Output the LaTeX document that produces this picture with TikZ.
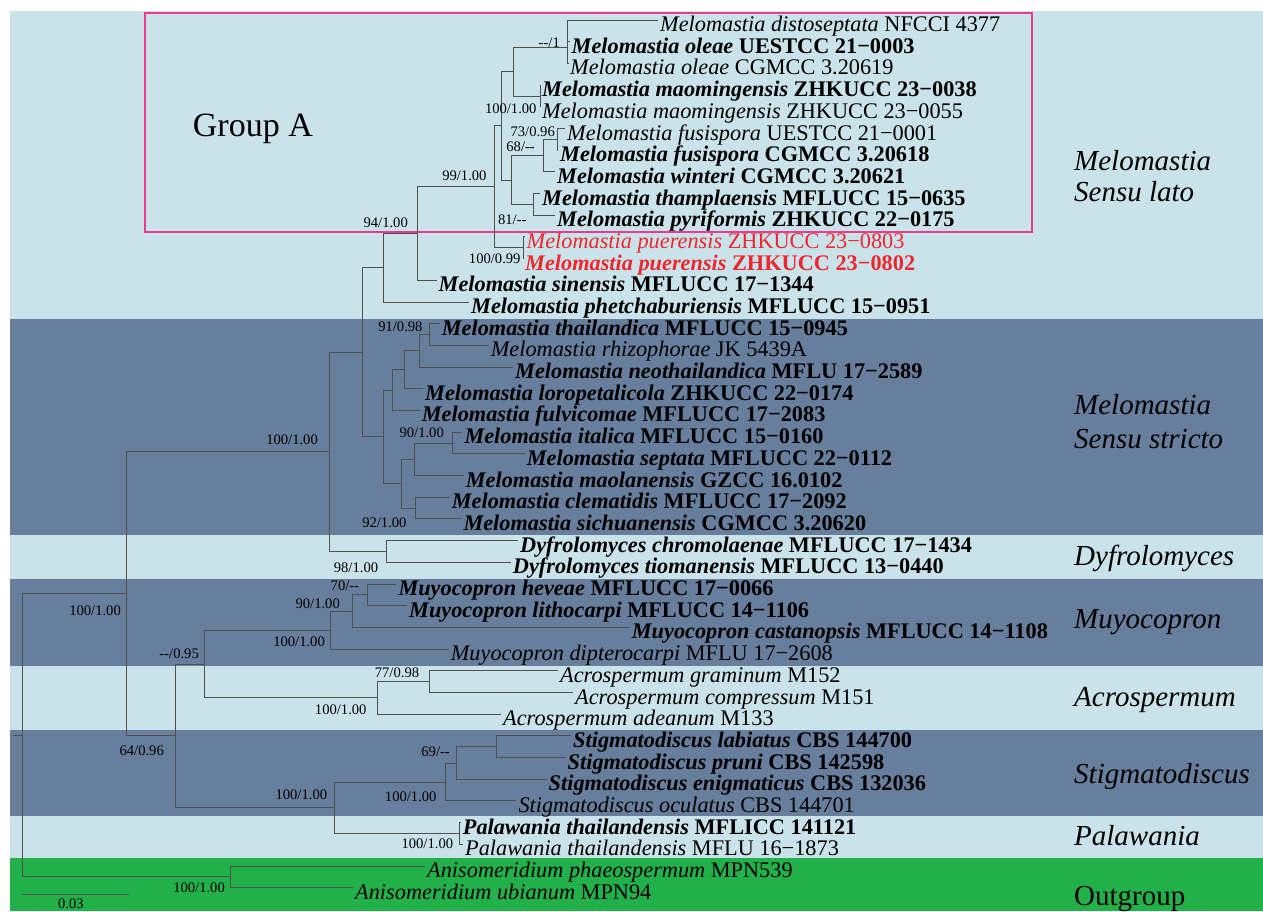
\documentclass[tikz,border=0pt]{standalone}
\usepackage{fontspec}
\setmainfont{Liberation Serif}
\definecolor{lightband}{RGB}{202,227,234}
\definecolor{darkband}{RGB}{103,126,156}
\definecolor{outband}{RGB}{34,176,75}
\definecolor{boxpink}{RGB}{236,58,140}
\definecolor{newred}{RGB}{240,38,45}
\definecolor{treeline}{RGB}{80,80,80}
\newcommand{\regtaxon}[2]{\textit{#1} #2}
\newcommand{\boldtaxon}[2]{\textbf{\textit{#1} #2}}
\begin{document}
\begin{tikzpicture}[x=1pt,y=-1pt]
            \tikzstyle{leaf}=[anchor=west,inner xsep=2pt,inner ysep=0pt,text height=23pt,text depth=0pt,font=\fontsize{22.3}{24}\selectfont]
            \tikzstyle{supp}=[anchor=base east,inner sep=0pt,font=\fontsize{14.6}{16}\selectfont]
            \tikzstyle{clade}=[anchor=base west,inner sep=0pt,font=\fontsize{29}{31}\selectfont\itshape]
            \tikzstyle{branch}=[treeline,line width=0.9pt]
            \useasboundingbox (0,0) rectangle (1263,911);
            \fill[lightband] (10,10.7) rectangle (1263,318.5);
            \fill[darkband] (10,318.5) rectangle (1263,535);
            \fill[lightband] (10,535) rectangle (1263,578.7);
            \fill[darkband] (10,578.7) rectangle (1263,665.7);
            \fill[lightband] (10,665.7) rectangle (1263,730);
            \fill[darkband] (10,730) rectangle (1263,816.3);
            \fill[lightband] (10,816.3) rectangle (1263,857.5);
            \fill[outband] (10,857.5) rectangle (1263,911);
            \draw[boxpink,line width=2pt] (145,13.3) rectangle (1032,231.7);
            \node[anchor=base west,inner sep=0pt,font=\fontsize{34}{36}\selectfont] (ga) at (192.7,136.7) {Group A};
            % taxa
            \node[leaf] (l1) at (658,20) {\regtaxon{Melomastia distoseptata}{NFCCI 4377}};
            \node[leaf] (l2) at (569.5,41.7) {\boldtaxon{Melomastia oleae}{UESTCC 21−0003}};
            \node[leaf] (l3) at (568,63.4) {\regtaxon{Melomastia oleae}{CGMCC 3.20619}};
            \node[leaf] (l4) at (540,85.1) {\boldtaxon{Melomastia maomingensis}{ZHKUCC 23−0038}};
            \node[leaf] (l5) at (540,106.8) {\regtaxon{Melomastia maomingensis}{ZHKUCC 23−0055}};
            \node[leaf] (l6) at (565,128.5) {\regtaxon{Melomastia fusispora}{UESTCC 21−0001}};
            \node[leaf] (l7) at (558,150.1) {\boldtaxon{Melomastia fusispora}{CGMCC 3.20618}};
            \node[leaf] (l8) at (555,171.8) {\boldtaxon{Melomastia winteri}{CGMCC 3.20621}};
            \node[leaf] (l9) at (540,193.5) {\boldtaxon{Melomastia thamplaensis}{MFLUCC 15−0635}};
            \node[leaf] (l10) at (555,215.2) {\boldtaxon{Melomastia pyriformis}{ZHKUCC 22−0175}};
            \node[leaf,text=newred] (l11) at (524.5,236.9) {\regtaxon{Melomastia puerensis}{ZHKUCC 23−0803}};
            \node[leaf,text=newred] (l12) at (523,258.6) {\boldtaxon{Melomastia puerensis}{ZHKUCC 23−0802}};
            \node[leaf] (l13) at (436.5,280.3) {\boldtaxon{Melomastia sinensis}{MFLUCC 17−1344}};
            \node[leaf] (l14) at (469,302) {\boldtaxon{Melomastia phetchaburiensis}{MFLUCC 15−0951}};
            \node[leaf] (l15) at (439.7,323.7) {\boldtaxon{Melomastia thailandica}{MFLUCC 15−0945}};
            \node[leaf] (l16) at (488.7,345.4) {\regtaxon{Melomastia rhizophorae}{JK 5439A}};
            \node[leaf] (l17) at (513,367) {\boldtaxon{Melomastia neothailandica}{MFLU 17−2589}};
            \node[leaf] (l18) at (423,388.7) {\boldtaxon{Melomastia loropetalicola}{ZHKUCC 22−0174}};
            \node[leaf] (l19) at (419.7,410.4) {\boldtaxon{Melomastia fulvicomae}{MFLUCC 17−2083}};
            \node[leaf] (l20) at (462.3,432.1) {\boldtaxon{Melomastia italica}{MFLUCC 15−0160}};
            \node[leaf] (l21) at (524.7,453.8) {\boldtaxon{Melomastia septata}{MFLUCC 22−0112}};
            \node[leaf] (l22) at (463.7,475.5) {\boldtaxon{Melomastia maolanensis}{GZCC 16.0102}};
            \node[leaf] (l23) at (449.7,497.2) {\boldtaxon{Melomastia clematidis}{MFLUCC 17−2092}};
            \node[leaf] (l24) at (461.3,518.9) {\boldtaxon{Melomastia sichuanensis}{CGMCC 3.20620}};
            \node[leaf] (l25) at (518,540.6) {\boldtaxon{Dyfrolomyces chromolaenae}{MFLUCC 17−1434}};
            \node[leaf] (l26) at (510.7,562.3) {\boldtaxon{Dyfrolomyces tiomanensis}{MFLUCC 13−0440}};
            \node[leaf] (l27) at (396.3,584) {\boldtaxon{Muyocopron heveae}{MFLUCC 17−0066}};
            \node[leaf] (l28) at (407,605.7) {\boldtaxon{Muyocopron lithocarpi}{MFLUCC 14−1106}};
            \node[leaf] (l29) at (629.7,627.4) {\boldtaxon{Muyocopron castanopsis}{MFLUCC 14−1108}};
            \node[leaf] (l30) at (448.7,649.1) {\regtaxon{Muyocopron dipterocarpi}{MFLU 17−2608}};
            \node[leaf] (l31) at (558,670.8) {\regtaxon{Acrospermum graminum}{M152}};
            \node[leaf] (l32) at (573,692.5) {\regtaxon{Acrospermum compressum}{M151}};
            \node[leaf] (l33) at (501,714.2) {\regtaxon{Acrospermum adeanum}{M133}};
            \node[leaf] (l34) at (571,735.9) {\boldtaxon{Stigmatodiscus labiatus}{CBS 144700}};
            \node[leaf] (l35) at (565.5,757.6) {\boldtaxon{Stigmatodiscus pruni}{CBS 142598}};
            \node[leaf] (l36) at (546.5,779.2) {\boldtaxon{Stigmatodiscus enigmaticus}{CBS 132036}};
            \node[leaf] (l37) at (516.3,800.9) {\regtaxon{Stigmatodiscus oculatus}{CBS 144701}};
            \node[leaf] (l38) at (460.7,822.6) {\boldtaxon{Palawania thailandensis}{MFLICC 141121}};
            \node[leaf] (l39) at (463,844.3) {\regtaxon{Palawania thailandensis}{MFLU 16−1873}};
            \node[leaf] (l40) at (425,866) {\regtaxon{Anisomeridium phaeospermum}{MPN539}};
            \node[leaf] (l41) at (353,887.7) {\regtaxon{Anisomeridium ubianum}{MPN94}};
            % inner nodes
            \coordinate (ga1) at (567.5,47);
            \coordinate (ga2) at (540,96);
            \coordinate (ga3) at (513,71.5);
            \coordinate (ga4) at (557,139.3);
            \coordinate (ga5) at (543,155.6);
            \coordinate (ga6) at (533,204.4);
            \coordinate (ga7) at (511,180);
            \coordinate (ga8) at (501,125.75);
            \coordinate (ga9) at (523,247.75);
            \coordinate (ga10) at (494,186.75);
            \coordinate (ga11) at (417,233.5);
            \coordinate (ga12) at (383,267.75);
            \coordinate (ss1) at (429.3,334.55);
            \coordinate (ss2) at (419,350.8);
            \coordinate (ss3) at (404,369.75);
            \coordinate (ss4) at (392,390.1);
            \coordinate (ss5) at (452,442.95);
            \coordinate (ss6) at (414.3,459.2);
            \coordinate (ss7) at (415.3,508.05);
            \coordinate (ss8) at (401,483.6);
            \coordinate (ss9) at (383,436.85);
            \coordinate (m1) at (362,352.3);
            \coordinate (dy1) at (386.7,551.45);
            \coordinate (m2) at (329.3,451.9);
            \coordinate (mu1) at (367.7,594.85);
            \coordinate (mu2) at (352.3,611.1);
            \coordinate (mu3) at (330.3,630.1);
            \coordinate (ac1) at (429.3,681.65);
            \coordinate (ac2) at (377.7,697.9);
            \coordinate (b1) at (204,664);
            \coordinate (st1) at (496.7,746.75);
            \coordinate (st2) at (456.7,763);
            \coordinate (st3) at (445.7,781.95);
            \coordinate (pa1) at (459,833.45);
            \coordinate (st4) at (334.3,807.7);
            \coordinate (b2) at (175.3,735.85);
            \coordinate (in1) at (126.7,593.9);
            \coordinate (og1) at (230.7,876.85);
            \coordinate (root) at (22.3,735.4);
            \coordinate (r0) at (13,735.4);
            % branches
            \draw[branch] (ga1) |- (l1);
            \draw[branch] (ga1) |- (l2);
            \draw[branch] (ga1) |- (l3);
            \draw[branch] (ga2) |- (l4);
            \draw[branch] (ga2) |- (l5);
            \draw[branch] (ga3) |- (ga1);
            \draw[branch] (ga3) |- (ga2);
            \draw[branch] (ga4) |- (l6);
            \draw[branch] (ga4) |- (l7);
            \draw[branch] (ga5) |- (ga4);
            \draw[branch] (ga5) |- (l8);
            \draw[branch] (ga6) |- (l9);
            \draw[branch] (ga6) |- (l10);
            \draw[branch] (ga7) |- (ga5);
            \draw[branch] (ga7) |- (ga6);
            \draw[branch] (ga8) |- (ga3);
            \draw[branch] (ga8) |- (ga7);
            \draw[branch] (ga9) |- (l11);
            \draw[branch] (ga9) |- (l12);
            \draw[branch] (ga10) |- (ga8);
            \draw[branch] (ga10) |- (ga9);
            \draw[branch] (ga11) |- (ga10);
            \draw[branch] (ga11) |- (l13);
            \draw[branch] (ga12) |- (ga11);
            \draw[branch] (ga12) |- (l14);
            \draw[branch] (ss1) |- (l15);
            \draw[branch] (ss1) |- (l16);
            \draw[branch] (ss2) |- (ss1);
            \draw[branch] (ss2) |- (l17);
            \draw[branch] (ss3) |- (ss2);
            \draw[branch] (ss3) |- (l18);
            \draw[branch] (ss4) |- (ss3);
            \draw[branch] (ss4) |- (l19);
            \draw[branch] (ss5) |- (l20);
            \draw[branch] (ss5) |- (l21);
            \draw[branch] (ss6) |- (ss5);
            \draw[branch] (ss6) |- (l22);
            \draw[branch] (ss7) |- (l23);
            \draw[branch] (ss7) |- (l24);
            \draw[branch] (ss8) |- (ss6);
            \draw[branch] (ss8) |- (ss7);
            \draw[branch] (ss9) |- (ss4);
            \draw[branch] (ss9) |- (ss8);
            \draw[branch] (m1) |- (ga12);
            \draw[branch] (m1) |- (ss9);
            \draw[branch] (dy1) |- (l25);
            \draw[branch] (dy1) |- (l26);
            \draw[branch] (m2) |- (m1);
            \draw[branch] (m2) |- (dy1);
            \draw[branch] (mu1) |- (l27);
            \draw[branch] (mu1) |- (l28);
            \draw[branch] (mu2) |- (mu1);
            \draw[branch] (mu2) |- (l29);
            \draw[branch] (mu3) |- (mu2);
            \draw[branch] (mu3) |- (l30);
            \draw[branch] (ac1) |- (l31);
            \draw[branch] (ac1) |- (l32);
            \draw[branch] (ac2) |- (ac1);
            \draw[branch] (ac2) |- (l33);
            \draw[branch] (b1) |- (mu3);
            \draw[branch] (b1) |- (ac2);
            \draw[branch] (st1) |- (l34);
            \draw[branch] (st1) |- (l35);
            \draw[branch] (st2) |- (st1);
            \draw[branch] (st2) |- (l36);
            \draw[branch] (st3) |- (st2);
            \draw[branch] (st3) |- (l37);
            \draw[branch] (pa1) |- (l38);
            \draw[branch] (pa1) |- (l39);
            \draw[branch] (st4) |- (st3);
            \draw[branch] (st4) |- (pa1);
            \draw[branch] (b2) |- (b1);
            \draw[branch] (b2) |- (st4);
            \draw[branch] (in1) |- (m2);
            \draw[branch] (in1) |- (b2);
            \draw[branch] (og1) |- (l40);
            \draw[branch] (og1) |- (l41);
            \draw[branch] (root) |- (in1);
            \draw[branch] (root) |- (og1);
            \draw[branch] (r0) -- (root);
            % support values
            \node[supp] (bs1) at (560,47.3) {{-}{-}/1};
            \node[supp] (bs2) at (536.7,113.3) {100/1.00};
            \node[supp] (bs3) at (555,136.7) {73/0.96};
            \node[supp] (bs4) at (535,151.7) {68/{-}{-}};
            \node[supp] (bs5) at (486.7,180) {99/1.00};
            \node[supp] (bs6) at (526.7,224.3) {81/{-}{-}};
            \node[supp] (bs7) at (408,227.7) {94/1.00};
            \node[supp] (bs8) at (520.7,263.3) {100/0.99};
            \node[supp] (bs9) at (422.7,331.7) {91/0.98};
            \node[supp] (bs10) at (444,437.3) {90/1.00};
            \node[supp] (bs11) at (406.7,527.7) {92/1.00};
            \node[supp] (bs12) at (318,444.3) {100/1.00};
            \node[supp] (bs13) at (378.3,572.7) {98/1.00};
            \node[supp] (bs14) at (359.3,590.7) {70/{-}{-}};
            \node[supp] (bs15) at (340,608.3) {90/1.00};
            \node[supp] (bs16) at (325,646.7) {100/1.00};
            \node[supp] (bs17) at (199,658.3) {{-}{-}/0.95};
            \node[supp] (bs18) at (419.3,677) {77/0.98};
            \node[supp] (bs19) at (366.7,714) {100/1.00};
            \node[supp] (bs20) at (121,615) {100/1.00};
            \node[supp] (bs21) at (164,755) {64/0.96};
            \node[supp] (bs22) at (450,756.7) {69/{-}{-}};
            \node[supp] (bs23) at (327.3,799) {100/1.00};
            \node[supp] (bs24) at (436.7,801) {100/1.00};
            \node[supp] (bs25) at (453.3,848.3) {100/1.00};
            \node[supp] (bs26) at (225,892.7) {100/1.00};
            % scale bar
            \coordinate (sb1) at (22,894.3);
            \coordinate (sb2) at (129,894.3);
            \draw[branch] (sb1) -- (sb2);
            \node[supp,anchor=base] (sbl) at (71,908) {0.03};
            % clade names
            \node[clade] (cl1) at (1074,170.7) {Melomastia};
            \node[clade] (cl2) at (1074,201.7) {Sensu lato};
            \node[clade] (cl3) at (1074,414.7) {Melomastia};
            \node[clade] (cl4) at (1074,448.7) {Sensu stricto};
            \node[clade] (cl5) at (1074,565.7) {Dyfrolomyces};
            \node[clade] (cl6) at (1074,628.7) {Muyocopron};
            \node[clade] (cl7) at (1074,706.7) {Acrospermum};
            \node[clade] (cl8) at (1074,783.3) {Stigmatodiscus};
            \node[clade] (cl9) at (1074,845.7) {Palawania};
            \node[clade,font=\fontsize{29}{31}\selectfont] (cl10) at (1074,905) {Outgroup};
\end{tikzpicture}
\end{document}
